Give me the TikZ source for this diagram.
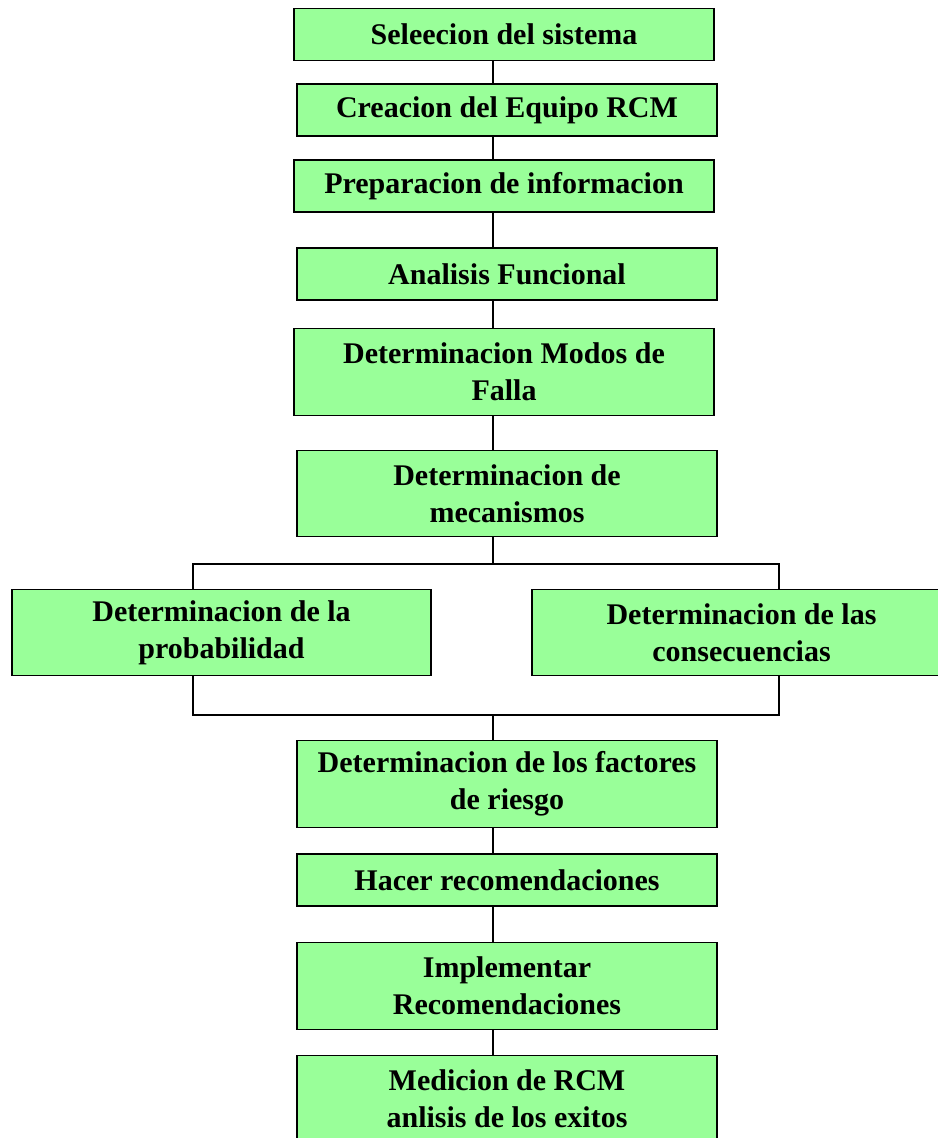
\documentclass[tikz,border=0pt]{standalone}
\usepackage{fontspec}
\setmainfont{Liberation Serif}
\usepackage{xcolor}
\usepackage{tikz}
\usetikzlibrary{positioning, calc}

\definecolor{verdeclaro}{RGB}{153,255,153}

\tikzset{
    paso/.style={draw, line width=0.9pt, fill=verdeclaro, minimum width=315pt, minimum height=39pt,
        inner sep=2pt, align=center, font=\fontsize{22.5}{27.5}\selectfont\bfseries},
    alto/.style={minimum height=65pt},
    liga/.style={line width=0.8pt}
}

\begin{document}
\begin{tikzpicture}[x=0.75pt, y=-0.75pt]
    \clip (0,0) rectangle (938,1138);

    % Spine and branch frame
    \coordinate (eje) at (493,0);
    \coordinate (ramaA) at (193,564);
    \coordinate (ramaB) at (779,715);
    \draw[liga] (ramaA) rectangle (ramaB);

    % Main steps
    \node[paso] (sel) at (504,34.5) {Seleecion del sistema};
    \node[paso] (equipo) at (507,110) {Creacion del Equipo RCM};
    \node[paso] (info) at (504,186) {Preparacion de informacion};
    \node[paso] (funcional) at (507,274) {Analisis Funcional};
    \node[paso, alto] (modos) at (504,372) {Determinacion Modos de\\Falla};
    \node[paso, alto] (mecan) at (507,493.5) {Determinacion de\\mecanismos};

    % Two branches
    \node[paso, alto, minimum width=314.25pt] (prob) at (221.5,632.5) {Determinacion de la\\probabilidad};
    \node[paso, alto, minimum width=314.25pt] (conse) at (741.5,632.5) {Determinacion de las\\consecuencias};

    % Closing steps
    \node[paso, alto] (riesgo) at (507,784) {Determinacion de los factores\\de riesgo};
    \node[paso] (recom) at (507,880) {Hacer recomendaciones};
    \node[paso, alto] (implem) at (507,986) {Implementar\\Recomendaciones};
    \node[paso, alto] (medicion) at (507,1099) {Medicion de RCM\\anlisis de los exitos};

    % Connectors along the spine
    \foreach \a/\b in {sel/equipo, equipo/info, info/funcional, funcional/modos, modos/mecan,
        riesgo/recom, recom/implem, implem/medicion} {
        \draw[liga] (\a.south -| eje) -- (\b.north -| eje);
    }
    \draw[liga] (mecan.south -| eje) -- (ramaA -| eje);
    \draw[liga] (ramaB -| eje) -- (riesgo.north -| eje);
\end{tikzpicture}
\end{document}
